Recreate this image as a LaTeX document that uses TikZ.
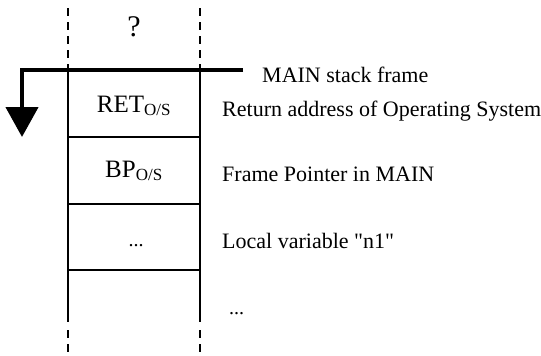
\documentclass[tikz,border=0pt]{standalone}
\usepackage{fontspec}
\setmainfont{Liberation Serif}[Ligatures=TeXOff]
\usetikzlibrary{arrows.meta}
\tikzset{
  wall/.style={line width=2pt},
  dwall/.style={line width=2pt, dash pattern=on 8pt off 6pt},
  sep/.style={line width=2pt},
  framearrow/.style={line width=4.5pt, -{Triangle[width=32pt,length=30pt]}},
  lbl/.style={anchor=base west, inner sep=0pt, font=\fontsize{22}{24}\selectfont},
  cell/.style={anchor=base, inner sep=0pt, font=\fontsize{25}{27}\selectfont},
}
\begin{document}
\begin{tikzpicture}[x=1pt,y=-1pt]
\useasboundingbox (0,0) rectangle (541,356);
% coordinates
\coordinate (LT) at (68,8);
\coordinate (RT) at (200,8);
\coordinate (L0) at (68,70);
\coordinate (R0) at (200,70);
\coordinate (L1) at (68,322);
\coordinate (R1) at (200,322);
\coordinate (LB) at (68,356);
\coordinate (RB) at (200,356);
% walls
\draw[dwall] (LT) -- (L0);
\draw[dwall] (RT) -- (R0);
\draw[wall] (L0) -- (L1);
\draw[wall] (R0) -- (R1);
\draw[dwall] ([yshift=-8pt]L1) -- (LB);
\draw[dwall] ([yshift=-8pt]R1) -- (RB);
% separators
\coordinate (A1) at (68,137); \coordinate (B1) at (200,137);
\coordinate (A2) at (68,204); \coordinate (B2) at (200,204);
\coordinate (A3) at (68,270); \coordinate (B3) at (200,270);
\draw[sep] (A1) -- (B1);
\draw[sep] (A2) -- (B2);
\draw[sep] (A3) -- (B3);
% frame marker
\coordinate (F0) at (243,70);
\coordinate (F1) at (22,70);
\coordinate (F2) at (22,137);
\draw[framearrow] (F0) -- (F1) -- (F2);
% cell texts
\node[cell, font=\fontsize{30}{32}\selectfont] (q) at (134,36) {?};
\node[cell] (ret) at (134,112) {RET\textsubscript{\fontsize{17}{18}\selectfont O/S}};
\node[cell] (bp) at (134,177) {BP\textsubscript{\fontsize{17}{18}\selectfont O/S}};
\node[cell, font=\fontsize{20}{22}\selectfont] (dots1) at (136,246) {...};
% labels
\node[lbl] (main) at (262,82) {MAIN stack frame};
\node[lbl] (retl) at (222,116) {Return address of Operating System};
\node[lbl] (bpl) at (222,181) {Frame Pointer in MAIN};
\node[lbl] (n1) at (222,248) {Local variable "n1"};
\node[lbl, font=\fontsize{20}{22}\selectfont] (dots2) at (229,314) {...};
\end{tikzpicture}
\end{document}
